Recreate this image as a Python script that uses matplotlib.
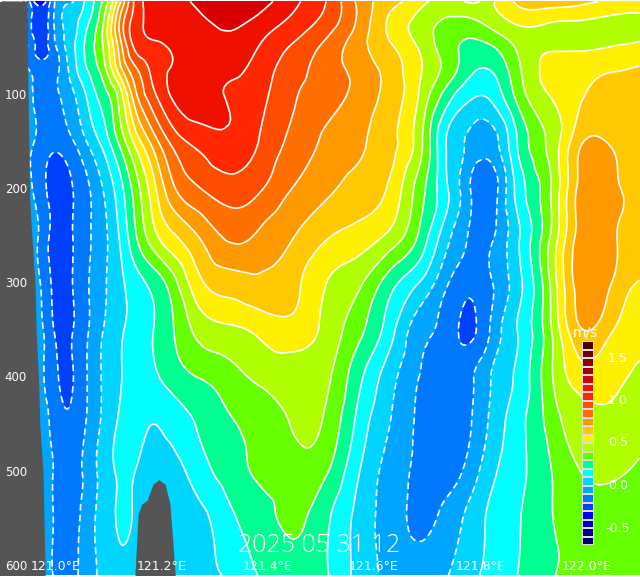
import numpy as np
import matplotlib
matplotlib.use("Agg")
import matplotlib.pyplot as plt
import matplotlib.tri as mtri

# section grid, longitude (deg E) and depth (m)
lons = [120.90, 120.94, 120.97, 121.00, 121.03, 121.06, 121.09, 121.12, 121.15, 121.18, 121.22, 121.27, 121.33, 121.39,
        121.45, 121.51, 121.57, 121.63, 121.69, 121.74, 121.78, 121.82, 121.87, 121.93, 121.99, 122.05, 122.10]
depths = [0, 25, 50, 75, 100, 150, 200, 250, 300, 350, 400, 450, 500, 550, 610]

# current speed (m/s), one list per depth
d000 = [-0.05, -0.05, -0.37, -0.09, -0.01, 0.13, 0.31, 0.65, 1.02, 1.13, 1.17, 1.22, 1.28, 1.24, 1.12, 1.00, 0.78, 0.64, 0.53, 0.46, 0.51, 0.49, 0.62, 0.66, 0.63, 0.58, 0.56]
d025 = [-0.05, -0.05, -0.28, -0.08, 0.05, 0.19, 0.40, 0.80, 1.05, 1.13, 1.16, 1.18, 1.21, 1.15, 1.06, 0.95, 0.78, 0.58, 0.45, 0.37, 0.36, 0.42, 0.50, 0.49, 0.48, 0.47, 0.47]
d050 = [-0.05, -0.05, -0.23, -0.12, 0.06, 0.23, 0.40, 0.72, 1.01, 1.07, 1.11, 1.15, 1.17, 1.08, 0.98, 0.87, 0.74, 0.62, 0.48, 0.34, 0.27, 0.28, 0.41, 0.49, 0.49, 0.51, 0.53]
d075 = [-0.05, -0.07, -0.13, -0.12, 0.03, 0.19, 0.34, 0.62, 0.86, 1.01, 1.11, 1.12, 1.12, 1.04, 0.94, 0.85, 0.77, 0.66, 0.50, 0.35, 0.22, 0.195, 0.37, 0.53, 0.57, 0.60, 0.62]
d100 = [-0.05, -0.05, -0.13, -0.12, -0.03, 0.11, 0.25, 0.43, 0.76, 0.95, 1.11, 1.14, 1.09, 1.02, 0.91, 0.84, 0.77, 0.66, 0.47, 0.24, 0.12, 0.12, 0.33, 0.50, 0.59, 0.64, 0.66]
d150 = [-0.05, -0.05, -0.13, -0.175, -0.12, 0.00, 0.13, 0.31, 0.52, 0.71, 0.92, 1.03, 1.08, 0.98, 0.87, 0.78, 0.72, 0.63, 0.41, 0.08, -0.02, -0.05, 0.20, 0.42, 0.69, 0.685, 0.66]
d200 = [-0.05, -0.05, -0.15, -0.24, -0.21, -0.12, 0.00, 0.15, 0.34, 0.53, 0.77, 0.89, 0.95, 0.90, 0.79, 0.72, 0.66, 0.58, 0.33, 0.10, -0.09, -0.16, 0.13, 0.38, 0.74, 0.73, 0.67]
d250 = [-0.05, -0.05, -0.11, -0.24, -0.21, -0.12, -0.03, 0.10, 0.28, 0.44, 0.58, 0.70, 0.82, 0.77, 0.70, 0.61, 0.56, 0.47, 0.26, 0.02, -0.11, -0.12, 0.08, 0.39, 0.75, 0.72, 0.66]
d300 = [-0.05, -0.05, -0.09, -0.23, -0.21, -0.11, -0.02, 0.07, 0.15, 0.22, 0.35, 0.57, 0.65, 0.68, 0.63, 0.50, 0.42, 0.24, 0.08, -0.10, -0.17, -0.11, 0.06, 0.39, 0.75, 0.69, 0.59]
d350 = [-0.05, -0.05, -0.07, -0.21, -0.21, -0.11, 0.00, 0.08, 0.14, 0.19, 0.29, 0.43, 0.48, 0.53, 0.56, 0.47, 0.33, 0.14, -0.07, -0.15, -0.22, -0.09, 0.10, 0.37, 0.69, 0.60, 0.55]
d400 = [-0.05, -0.05, -0.07, -0.18, -0.21, -0.10, 0.01, 0.09, 0.13, 0.17, 0.24, 0.30, 0.36, 0.42, 0.44, 0.42, 0.23, 0.04, -0.11, -0.14, -0.12, 0.00, 0.12, 0.37, 0.55, 0.53, 0.47]
d450 = [-0.05, -0.05, -0.05, -0.14, -0.18, -0.09, 0.02, 0.11, 0.12, 0.10, 0.13, 0.21, 0.29, 0.34, 0.41, 0.38, 0.17, 0.00, -0.13, -0.17, -0.11, 0.02, 0.16, 0.33, 0.46, 0.47, 0.45]
d500 = [-0.05, -0.05, -0.05, -0.11, -0.14, -0.07, 0.04, 0.11, 0.10, 0.06, 0.06, 0.15, 0.25, 0.32, 0.35, 0.31, 0.11, -0.04, -0.13, -0.14, -0.06, 0.07, 0.17, 0.29, 0.40, 0.42, 0.37]
d550 = [-0.05, -0.05, -0.05, -0.11, -0.14, -0.05, 0.04, 0.11, 0.09, 0.05, 0.05, 0.07, 0.18, 0.26, 0.32, 0.22, 0.07, -0.05, -0.12, -0.06, 0.03, 0.12, 0.19, 0.29, 0.33, 0.33, 0.32]
d610 = [-0.05, -0.05, -0.05, -0.11, -0.13, -0.05, 0.03, 0.08, 0.09, 0.07, 0.06, 0.07, 0.12, 0.21, 0.24, 0.21, 0.07, -0.03, -0.05, 0.00, 0.07, 0.13, 0.20, 0.29, 0.32, 0.32, 0.31]

# land mask outlines
coast_lon = [120.947, 120.949, 120.952, 120.956, 120.962, 120.964, 120.9685, 120.971, 120.977, 120.981]
coast_depth = [0, 105, 211, 250, 300, 350, 400, 450, 500, 610]
hill_lon = [121.150, 121.156, 121.163, 121.173, 121.184, 121.195, 121.207, 121.216, 121.226]
hill_depth = [610, 545, 534, 530, 513, 508, 513, 534, 610]

levels = [round(-0.7 + 0.1 * i, 1) for i in range(25)]
colors = ["#000066", "#000088", "#0000bb", "#0000ff", "#0040ff", "#0078ff", "#00a5ff", "#00d5ff",
          "#00ffff", "#00ff90", "#66ff00", "#b0ff00", "#fff000", "#ffc800", "#ff9900", "#ff7000",
          "#ff4d00", "#ff2800", "#f01000", "#d80000", "#a80000", "#880000", "#660000", "#4d0000"]

x_ticks = [121.0, 121.2, 121.4, 121.6, 121.8, 122.0]
y_ticks = [100, 200, 300, 400, 500, 600]
bar_ticks = [-0.5, 0.0, 0.5, 1.0, 1.5]
stamp = "2025 05 31 12"

speed = np.array([d000, d025, d050, d075, d100, d150, d200, d250, d300, d350, d400, d450, d500, d550, d610])

# smooth contours: refine with matplotlib's cubic interpolator, lon scaled so cells are not squashed
xscale = 500.0
xx, yy = np.meshgrid(np.array(lons) * xscale, depths)
tri = mtri.Triangulation(xx.ravel(), yy.ravel())
refiner = mtri.UniformTriRefiner(tri)
tri2, speed2 = refiner.refine_field(speed.ravel(), subdiv=3)
tri2 = mtri.Triangulation(tri2.x / xscale, tri2.y, tri2.triangles)

W, H = 640, 577
fig = plt.figure(figsize=(W / 100, H / 100), dpi=100)
ax = fig.add_axes([0, 2 / H, 1, 574 / H])

ax.tricontourf(tri2, speed2, levels=levels, colors=colors, extend="both")
styles = [(0, (4, 2.5)) if l <= 0 else "solid" for l in levels]
ax.tricontour(tri2, speed2, levels=levels, colors="white", linewidths=1.2, linestyles=styles)

ax.fill_betweenx(coast_depth, 120.8, coast_lon, color="#555555", lw=0, zorder=3)
ax.fill_between(hill_lon, hill_depth, 620, color="#555555", lw=0, zorder=3)

ax.set_xlim(120.896, 122.101)
ax.set_ylim(609.4, -0.5)
ax.axis("off")

for t in x_ticks:
    ax.text(t, 600, "%.1f°E" % t, color="white", fontsize=9, ha="center", va="center", zorder=5)
for d in y_ticks:
    ax.text(120.926, d, str(d), color="white", fontsize=8.5, ha="center", va="center", zorder=5)
ax.text(121.497, 578, stamp, color="white", fontsize=18, family="Open Sans", fontweight="light",
        ha="center", va="center", zorder=5)

# colour bar boxes
cax = fig.add_axes([582 / W, 1 - 545 / H, 12 / W, 204 / H], zorder=6)
cax.pcolormesh([0, 1], levels, np.arange(24).reshape(24, 1), cmap=matplotlib.colors.ListedColormap(colors),
               edgecolors="#dddddd", linewidth=0.35)
cax.set_ylim(-0.7, 1.7)
cax.axis("off")
for t in bar_ticks:
    cax.text(3.0, t, "%.1f" % t, color="white", fontsize=9, ha="center", va="center", clip_on=False)
cax.text(0.25, 1.8, "m/s", color="white", fontsize=10, ha="center", va="center", clip_on=False)

fig.savefig("out.png", dpi=100)
